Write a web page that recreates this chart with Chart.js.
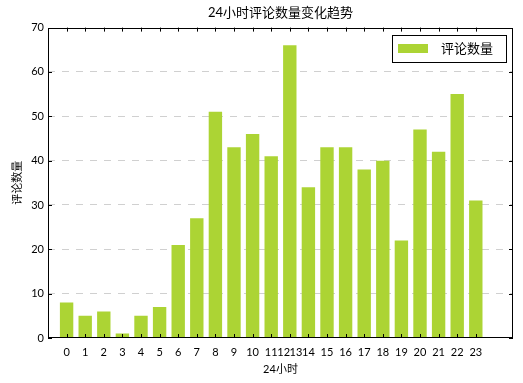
<!DOCTYPE html>
<html>
<head>
<meta charset="utf-8">
<script src="https://cdn.jsdelivr.net/npm/chart.js@4"></script>
<style>
  html, body { margin: 0; padding: 0; background: #fff; }
</style>
</head>
<body>
<canvas id="myChart" width="523" height="383"></canvas>
<script>
// bar positions and comment counts
const hours = [0, 1, 2, 3, 4, 5, 6, 7, 8, 9, 10, 11, 12, 13, 14, 15, 16, 17, 18, 19, 20, 21, 22];
const commentCounts = [8, 5, 6, 1, 5, 7, 21, 27, 51, 43, 46, 41, 66, 34, 43, 43, 38, 40, 22, 47, 42, 55, 31];

// the x labels are not one per bar: 11,12,13,14 are squeezed between bars 11 and 13
const tickSpots = [0, 1, 2, 3, 4, 5, 6, 7, 8, 9, 10, 11, 11.67, 12.33, 13, 14, 15, 16, 17, 18, 19, 20, 21, 22];
const tickLabels = ["0", "1", "2", "3", "4", "5", "6", "7", "8", "9", "10", "11", "12", "13", "14", "15", "16", "17", "18", "19", "20", "21", "22", "23"];

const yMax = 70;
const yStep = 10;

const fontFamily = '"Lato", "Noto Sans CJK SC", sans-serif';
const barColor = "#acd434";

// matplotlib style frame, inward tick marks and a boxed legend inside the axes
const framePlugin = {
  id: "frame",
  afterDraw(chart) {
    const { ctx, chartArea: a, scales } = chart;
    ctx.save();
    ctx.strokeStyle = "#000";
    ctx.lineWidth = 1;
    ctx.strokeRect(Math.round(a.left) + 0.5, Math.round(a.top) + 0.5,
      Math.round(a.width) - 1, Math.round(a.height) - 1);

    ctx.beginPath();
    scales.x.ticks.forEach(function (t) {
      const px = Math.round(scales.x.getPixelForValue(t.value)) + 0.5;
      ctx.moveTo(px, a.bottom);
      ctx.lineTo(px, a.bottom - 4);
      ctx.moveTo(px, a.top);
      ctx.lineTo(px, a.top + 4);
    });
    scales.y.ticks.forEach(function (t) {
      const py = Math.round(scales.y.getPixelForValue(t.value)) + 0.5;
      ctx.moveTo(a.left, py);
      ctx.lineTo(a.left + 4, py);
      ctx.moveTo(a.right, py);
      ctx.lineTo(a.right - 4, py);
    });
    ctx.stroke();

    // legend
    const ds = chart.data.datasets[0];
    const boxW = 114, boxH = 27;
    const bx = Math.round(a.right) - 7 - boxW;
    const by = Math.round(a.top) + 7;
    ctx.fillStyle = "#fff";
    ctx.fillRect(bx, by, boxW, boxH);
    ctx.strokeRect(bx + 0.5, by + 0.5, boxW, boxH);
    ctx.fillStyle = ds.backgroundColor;
    ctx.fillRect(bx + 6, by + 9, 30, 9);
    ctx.fillStyle = "#000";
    ctx.font = "13px " + fontFamily;
    ctx.textBaseline = "middle";
    ctx.textAlign = "left";
    ctx.fillText(ds.label, bx + 49, by + 14);
    ctx.restore();
  },
};

myChart = new Chart(document.getElementById("myChart"), {
  type: "bar",
  data: {
    datasets: [
      {
        label: "评论数量",
        data: hours.map(function (h, i) {
          return { x: h, y: commentCounts[i] };
        }),
        backgroundColor: barColor,
        borderWidth: 0,
        barPercentage: 0.72,
        categoryPercentage: 1,
      },
    ],
  },
  options: {
    responsive: false,
    animation: false,
    layout: { padding: { left: 0, right: 10, top: 0, bottom: 0 } },
    plugins: {
      legend: { display: false },
      tooltip: { enabled: false },
      title: {
        display: true,
        fullSize: false,
        text: "24小时评论数量变化趋势",
        color: "#000",
        font: { family: fontFamily, size: 13, weight: "normal" },
        padding: { top: 5, bottom: 7 },
      },
    },
    scales: {
      x: {
        type: "linear",
        display: false,
        min: -1,
        max: 24,
        offset: false,
        afterBuildTicks: function (scale) {
          scale.ticks = hours.map(function (v) {
            return { value: v };
          });
        },
      },
      xLabels: {
        type: "linear",
        position: "bottom",
        min: -1,
        max: 24,
        offset: false,
        grid: { display: false },
        border: { display: false },
        afterBuildTicks: function (scale) {
          scale.ticks = tickSpots.map(function (v) {
            return { value: v };
          });
        },
        ticks: {
          autoSkip: false,
          maxRotation: 0,
          padding: 0,
          color: "#000",
          font: { family: fontFamily, size: 11 },
          callback: function (v, i) {
            return tickLabels[i];
          },
        },
        title: {
          display: true,
          text: "24小时",
          color: "#000",
          font: { family: fontFamily, size: 11 },
          padding: { top: 4, bottom: 7 },
        },
        afterFit: function (scale) {
          scale.height = 45;
        },
      },
      y: {
        min: 0,
        max: yMax,
        ticks: {
          stepSize: yStep,
          padding: 4,
          color: "#000",
          font: { family: fontFamily, size: 11 },
        },
        grid: {
          drawTicks: false,
          color: function (c) {
            return c.tick && (c.tick.value === 0 || c.tick.value === yMax)
              ? "rgba(0,0,0,0)"
              : "#d0d0d0";
          },
        },
        border: { display: false, dash: [7, 7] },
        title: {
          display: true,
          text: "评论数量",
          color: "#000",
          font: { family: fontFamily, size: 11 },
          padding: { top: 11, bottom: 4 },
        },
        afterFit: function (scale) {
          scale.width = 48;
        },
      },
    },
  },
  plugins: [framePlugin],
});
</script>
</body>
</html>
